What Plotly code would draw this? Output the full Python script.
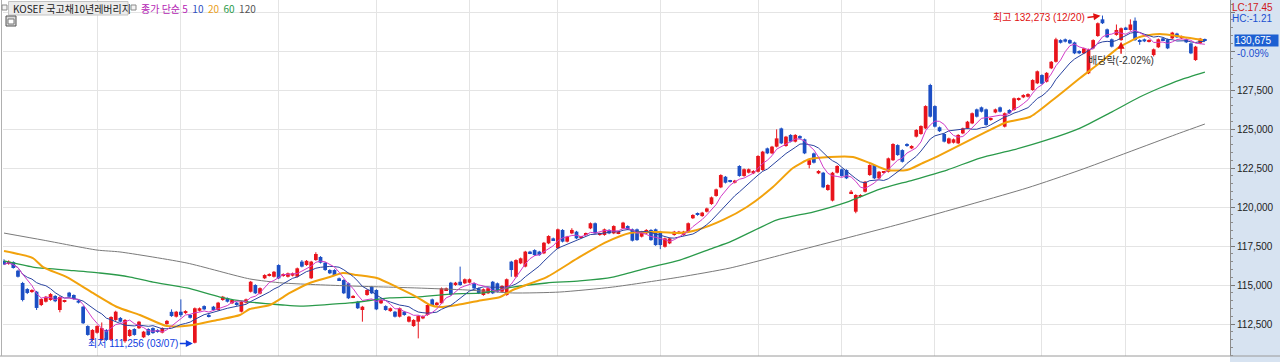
import plotly.graph_objects as go
import pandas as pd

# ---------------- data ----------------
opens = [
    116540, 116350, 116470, 115920, 115130, 114740, 114550, 114570, 113720, 113930,
    114040, 114300, 113400, 113930, 114510, 114360, 114000, 113610, 112370, 111480,
    111940, 111480, 112120, 111480, 112760, 112890, 111400, 111730, 112180, 112230,
    111650, 112180, 112240, 112120, 111950, 112500, 113280, 112970, 113290, 113200,
    113080, 111300, 113350, 113650, 113080, 113610, 113400, 114040, 114150, 113830,
    113870, 113290, 113870, 114570, 115000, 114450, 115430, 115600, 115530, 116280,
    115580, 115530, 115600, 115530, 116500, 116280, 115430, 116600, 116800, 116430,
    115960, 115960, 115430, 115320, 115110, 114210, 113930, 113400, 114360, 114890,
    114680, 113830, 113650, 113330, 113290, 112970, 113290, 112650, 112370, 112650,
    112860, 113080, 114080, 113720, 113830, 114680, 115150, 115000, 115210, 115110,
    115150, 115110, 114790, 114360, 114470, 115210, 115110, 114570, 114360, 116500,
    115530, 116390, 116180, 117140, 117240, 117140, 117030, 117670, 117990, 117350,
    118530, 117780, 118310, 118420, 118060, 118210, 118630, 118960, 118210, 118210,
    118530, 118310, 118310, 118630, 118780, 118570, 118570, 118100, 118310, 118530,
    118570, 118420, 117450, 117670, 118210, 118310, 118210, 118420, 119280, 119600,
    119420, 119700, 120190, 120710, 121260, 121940, 121690, 121560, 122630, 121990,
    122200, 122160, 122260, 122370, 123760, 123440, 123870, 125040, 123910, 124620,
    124190, 124550, 124340, 122700, 123440, 122160, 122200, 121090, 120410, 122200,
    122420, 122370, 120880, 119700, 120660, 120980, 122050, 122690, 121840, 122200,
    122260, 123000, 123970, 123650, 124040, 123760, 124510, 124680, 125040, 127820,
    126470, 125110, 124680, 124080, 124120, 124080, 124720, 125040, 125360, 126260,
    126390, 126260, 125580, 126060, 126390, 125150, 126220, 126220, 126860, 127030,
    127070, 127500, 127930, 128460, 128030, 128890, 129310, 130700, 130750, 130700,
    130550, 130000, 129850, 128570, 130170, 130960, 132030, 131390, 130750, 131030,
    130700, 131500, 131350, 131940, 130700, 130750, 130600, 129740, 130240, 130810,
    130750, 130810, 131120, 130810, 130750, 130490, 129420, 130490, 130750,
]
closes = [
    116330, 116500, 116090, 115530, 114040, 114490, 114680, 113530, 114100, 114250,
    114420, 113960, 114230, 113960, 114250, 114100, 113870, 112550, 111800, 112120,
    112370, 112240, 111480, 112950, 113290, 112650, 112760, 112120, 111800, 112650,
    112010, 111800, 111920, 111990, 112240, 112700, 113010, 113290, 113070, 113330,
    112900, 113510, 113510, 113440, 112970, 113400, 113870, 114250, 113930, 114040,
    113720, 113930, 114080, 115210, 114470, 114800, 115640, 115700, 115850, 115430,
    115700, 115750, 115750, 116070, 116180, 116550, 116500, 116990, 116430, 115960,
    115750, 115640, 115320, 114470, 114150, 114300, 113510, 113610, 114680, 114470,
    113440, 114040, 113400, 113510, 112970, 113510, 113080, 112970, 112760, 113010,
    113010, 113720, 113720, 113870, 114790, 114790, 114360, 115150, 115000, 115370,
    115370, 114790, 114470, 114730, 114790, 114470, 114570, 114940, 115370, 115960,
    116600, 116710, 117140, 117030, 116920, 116920, 117710, 118140, 117880, 118570,
    117780, 118100, 118530, 117990, 118100, 118310, 118960, 118310, 118310, 118570,
    118310, 118780, 118420, 119000, 118570, 117840, 117880, 118420, 118530, 117880,
    117560, 117560, 117990, 117990, 118420, 118420, 118420, 118960, 119490, 119490,
    119640, 119910, 120620, 121130, 122050, 121560, 121620, 121690, 121990, 122420,
    122420, 122310, 123270, 123550, 123440, 123870, 124400, 124080, 124510, 124190,
    124620, 124400, 123440, 123000, 122840, 122310, 121260, 121410, 122200, 122630,
    121990, 121840, 120980, 120770, 120770, 121620, 122690, 121840, 122260, 122260,
    123120, 124040, 123330, 122900, 123910, 123910, 124940, 125190, 126470, 125790,
    125150, 124860, 124190, 124400, 124340, 124620, 125040, 125470, 126010, 125790,
    126110, 125260, 125680, 126260, 126110, 126010, 126010, 126970, 126970, 127180,
    127240, 128140, 128700, 127900, 128600, 129310, 130750, 130530, 130600, 130490,
    129850, 129850, 130170, 130100, 130700, 131780, 131780, 130880, 130280, 131350,
    131460, 131400, 131700, 130700, 130600, 130620, 130700, 130110, 130750, 130700,
    130170, 131180, 130880, 130940, 130560, 129850, 130280, 130790, 130675,
]
highs = [
    116650, 116580, 116520, 115980, 115200, 114800, 114730, 114620, 114150, 114300,
    114480, 114350, 114280, 114050, 114560, 114400, 114050, 113660, 112420, 112170,
    112420, 112600, 112170, 113000, 113350, 112950, 112820, 112180, 112230, 112700,
    112060, 112230, 112290, 112170, 112290, 112760, 113440, 113340, 114080, 113380,
    113130, 113560, 113560, 113700, 113200, 113660, 113920, 114300, 114200, 114090,
    113920, 113980, 114130, 115260, 115050, 114850, 115690, 115750, 115900, 116330,
    115750, 115800, 115800, 116120, 116600, 116600, 116550, 117100, 116850, 116480,
    116010, 116010, 115480, 115370, 115160, 114350, 113980, 113660, 114730, 114940,
    114730, 114090, 113700, 113560, 113340, 113560, 113340, 113020, 112810, 113060,
    113060, 113770, 114130, 113920, 114840, 114840, 115200, 115200, 116180, 115420,
    115420, 115160, 114840, 114780, 114840, 115260, 115160, 114990, 115420, 116550,
    116650, 116760, 117190, 117190, 117290, 117190, 117760, 118190, 118040, 118620,
    118580, 118150, 118640, 118470, 118150, 118360, 119010, 119010, 118360, 118620,
    118580, 118830, 118470, 119050, 118830, 118620, 118620, 118470, 118580, 118580,
    118620, 118470, 118040, 118040, 118470, 118470, 118470, 119010, 119540, 119650,
    119690, 119960, 120670, 121180, 122100, 121990, 121740, 121740, 122680, 122470,
    122470, 122360, 123320, 123600, 123810, 123920, 124980, 125090, 124560, 124670,
    124670, 124600, 124390, 123060, 123490, 122360, 122250, 121460, 122250, 122680,
    122470, 122420, 121090, 120820, 120820, 121670, 122740, 122740, 122310, 122310,
    123170, 124090, 124020, 123700, 124090, 123960, 124990, 125240, 126520, 127900,
    126520, 125160, 124730, 124450, 124390, 124670, 125090, 125520, 126060, 126310,
    126440, 126310, 125730, 126310, 126440, 126060, 126270, 127020, 127020, 127230,
    127290, 128190, 128750, 128510, 128650, 129360, 130850, 130750, 130800, 130750,
    130600, 130050, 130220, 130150, 130750, 131830, 132273, 131440, 130800, 131700,
    131510, 131550, 132030, 132150, 130750, 130800, 130750, 130160, 130800, 130860,
    130800, 131230, 131170, 130990, 130800, 130540, 130330, 130840, 130800,
]
lows = [
    116280, 116300, 116050, 115480, 113950, 114420, 114500, 113400, 113650, 113880,
    113990, 113900, 113250, 113880, 114200, 114050, 113820, 112500, 111750, 111420,
    111880, 111420, 111420, 111420, 112700, 112600, 111300, 111680, 111750, 112180,
    111600, 111750, 111870, 111940, 111900, 112450, 112960, 112920, 112950, 113150,
    112850, 111256, 113300, 113390, 112920, 113350, 113350, 113990, 113880, 113780,
    113670, 113240, 113820, 114520, 114420, 114400, 115380, 115550, 115480, 115380,
    115530, 115480, 115550, 115480, 116130, 116230, 115380, 116550, 116380, 115910,
    115700, 115590, 115270, 114420, 114100, 114160, 113460, 112650, 114310, 114420,
    113390, 113780, 113350, 113280, 112920, 112920, 113030, 112600, 112320, 111580,
    112810, 113030, 113670, 113670, 113780, 114630, 114310, 114950, 114950, 115060,
    115100, 114740, 114420, 114310, 114420, 114420, 114520, 114520, 114310, 115530,
    115480, 116340, 116130, 116980, 116870, 116870, 116980, 117620, 117830, 117300,
    117730, 117730, 118260, 117940, 118010, 118160, 118580, 118260, 118160, 118160,
    118260, 118260, 118260, 118580, 118520, 117790, 117830, 118050, 118260, 117830,
    117510, 117300, 117400, 117620, 118160, 118260, 118160, 118370, 119230, 119440,
    119370, 119650, 120140, 120660, 121210, 121510, 121570, 121510, 121940, 121940,
    122150, 122110, 122210, 122320, 123390, 123390, 123820, 124030, 123860, 124140,
    124140, 124350, 123390, 122480, 122790, 122110, 121210, 121040, 120360, 122150,
    121940, 121790, 120830, 119600, 120610, 120930, 122000, 121790, 121790, 122150,
    122210, 122950, 123280, 122850, 123860, 123710, 124460, 124630, 124990, 125740,
    125100, 124810, 124140, 124030, 124070, 124030, 124670, 124990, 125310, 125740,
    126060, 125210, 125530, 126010, 126060, 125100, 125960, 126170, 126810, 126980,
    127020, 127450, 127880, 127850, 127980, 128840, 129260, 130480, 130550, 130440,
    129800, 129800, 129800, 128520, 130120, 130910, 131730, 130830, 130230, 130980,
    130650, 131350, 131300, 130650, 130400, 130570, 130550, 129650, 130190, 130650,
    130120, 130760, 130830, 130760, 130510, 129800, 129370, 130440, 130620,
]

# moving-average lines (candle index, value)
ma20_idx = [0, 6.2, 8.4, 13.5, 19.1, 24.3, 29.2, 35.0, 40.6, 45.8, 50.7, 52.8, 57.1, 61.4,
            65.7, 70.0, 72.8, 75.8, 80.1, 84.4, 88.7, 91.5, 93.7, 97.3, 102.9, 106.6, 109.3,
            116.6, 123.7, 129.5, 134.5, 140.9, 145.2, 148.9, 154.5, 159.6, 165.2, 169.5,
            173.1, 177.4, 182.4, 186.0, 189.7, 194.0, 197.4, 201.1, 209.7, 215.5, 220.4,
            225.3, 231.2, 235.4, 239.7, 244.0, 248.3, 253.3, 257.6]
ma20_val = [117180, 116730, 116150, 115510, 114490, 113590, 113080, 112370, 112440, 112760,
            113080, 113460, 113720, 114490, 115130, 115510, 115770, 115640, 115450, 114870,
            114230, 113720, 113590, 113720, 114040, 114230, 114680, 115510, 116800, 117760,
            118330, 118400, 118330, 118530, 119170, 120000, 121280, 122500, 123080, 123210,
            123210, 122820, 122370, 122370, 122820, 123330, 124620, 125450, 125770, 126860,
            128270, 129230, 130260, 130900, 131090, 130900, 130710]
ma60_idx = [0, 6.2, 13.5, 20.6, 27.1, 32.0, 39.3, 46.4, 52.8, 59.9, 63.6, 74.3, 82.9, 88.7,
            95.8, 102.9, 109.3, 116.6, 123.7, 130.8, 138.1, 145.2, 152.3, 156.0, 166.1,
            173.8, 181.1, 188.2, 195.3, 202.6, 209.7, 216.8, 224.1, 231.2, 237.6, 244.0,
            248.3, 252.6, 258.0]
ma60_val = [116540, 116150, 115960, 115770, 115510, 115190, 114810, 114230, 113910, 113720,
            113650, 113850, 114170, 114230, 114420, 114490, 114870, 115130, 115260, 115510,
            116090, 116600, 117370, 117760, 119170, 119680, 120320, 121150, 121730, 122370,
            123140, 123660, 124300, 125060, 126030, 127050, 127630, 128140, 128650]
ma120_idx = [0, 8.4, 20.0, 24.9, 39.3, 52.8, 59.9, 74.3, 88.7, 99.5, 109.3, 119.4, 130.8,
             145.2, 156.0, 171.0, 192.5, 219.8, 231.2, 252.6, 258.0]
ma120_val = [118330, 117880, 117240, 117120, 116410, 115390, 115130, 114940, 114810, 114680,
             114490, 114550, 114870, 115510, 116090, 117240, 118910, 121220, 122370, 124740,
             125320]

month_starts = [20, 38, 59, 80, 100, 119, 141, 162, 180, 200, 223, 241]
y_ticks = [112500, 115000, 117500, 120000, 122500, 125000, 127500, 130000, 132500]
y_labels = ["112,500", "115,000", "117,500", "120,000", "122,500", "125,000", "127,500", "", ""]

title_name = "KOSEF 국고채10년레버리지"
ma_periods = ["5", "10", "20", "60", "120"]
high_idx, high_txt = 236, "최고 132,273 (12/20)"
low_idx, low_txt = 41, "최저 111,256 (03/07)"
exdiv_idx, exdiv_txt = 240, "배당락(-2.02%)"
last_price, last_chg = "130,675", "-0.09%"
lc_txt, hc_txt = "LC:17.45", "HC:-1.21"

# ---------------- styling ----------------
W, H = 1280, 362
PL, PR, PB = 3, 1230, 356
RED, BLUE = "#e8141c", "#1c4fc4"
C5, C10, C20, C60, C120 = "#d23cc8", "#2a44a0", "#f2a20c", "#2a9a4a", "#7a7a7a"
FONT = "Liberation Sans, Noto Sans CJK KR, sans-serif"
KFONT = "Noto Sans CJK KR, Liberation Sans, sans-serif"
BODY_W = 0.8           # candle body width (fraction of one day)
MIN_BODY = 55          # minimum drawn body height so doji stay visible


def px_x(px):
    return (px - PL) / (PR - PL)


def px_y(py):
    return 1 - py / PB


idx = list(range(len(closes)))
cs = pd.Series(closes, dtype=float)
ma5 = cs.rolling(5, min_periods=1).mean()
ma10 = cs.rolling(10, min_periods=1).mean()

fig = go.Figure()
for is_up, col in ((True, RED), (False, BLUE)):
    sel = [i for i in idx if (closes[i] > opens[i]) == is_up]
    base = [min(opens[i], closes[i]) for i in sel]
    hgt = [max(abs(closes[i] - opens[i]), MIN_BODY) for i in sel]
    wx, wy = [], []
    for i in sel:
        wx += [i, i, None]
        wy += [lows[i], highs[i], None]
    fig.add_trace(go.Scatter(x=wx, y=wy, mode="lines", line=dict(color=col, width=1),
                             hoverinfo="skip"))
    fig.add_trace(go.Bar(x=sel, y=hgt, base=base, width=BODY_W,
                         marker=dict(color=col, line=dict(width=0)), hoverinfo="skip"))

smooth = dict(shape="spline", smoothing=0.6)
fig.add_trace(go.Scatter(x=ma120_idx, y=ma120_val, mode="lines",
                         line=dict(color=C120, width=1, **smooth), hoverinfo="skip"))
fig.add_trace(go.Scatter(x=ma60_idx, y=ma60_val, mode="lines",
                         line=dict(color=C60, width=1.3, **smooth), hoverinfo="skip"))
fig.add_trace(go.Scatter(x=ma20_idx, y=ma20_val, mode="lines",
                         line=dict(color=C20, width=2, **smooth), hoverinfo="skip"))
fig.add_trace(go.Scatter(x=idx, y=ma10, mode="lines", line=dict(color=C10, width=1), hoverinfo="skip"))
fig.add_trace(go.Scatter(x=idx, y=ma5, mode="lines", line=dict(color=C5, width=1), hoverinfo="skip"))

shapes = [
    # right price panel
    dict(type="rect", xref="paper", yref="paper", x0=1, x1=px_x(W), y0=px_y(H), y1=1,
         fillcolor="#d7e3f1", line=dict(width=0), layer="below"),
    # bottom and left frame lines
    dict(type="line", xref="paper", yref="paper", x0=px_x(0), x1=px_x(W), y0=0, y1=0,
         line=dict(color="#9a9a9a", width=1)),
    dict(type="line", xref="paper", yref="paper", x0=px_x(1.5), x1=px_x(1.5), y0=0, y1=1,
         line=dict(color="#b0b0b0", width=1)),
    # small icons top-left
    dict(type="rect", xref="paper", yref="paper", x0=px_x(2), x1=px_x(7), y0=px_y(10), y1=px_y(5),
         fillcolor="#f4f4f4", line=dict(color="#8a8a8a", width=1)),
    dict(type="rect", xref="paper", yref="paper", x0=px_x(8.5), x1=px_x(128), y0=px_y(15), y1=px_y(1.5),
         fillcolor="#ececec", line=dict(color="#c4c4c4", width=1)),
    dict(type="rect", xref="paper", yref="paper", x0=px_x(131), x1=px_x(136), y0=px_y(10), y1=px_y(5),
         fillcolor="#f4f4f4", line=dict(color="#8a8a8a", width=1)),
    dict(type="rect", xref="paper", yref="paper", x0=px_x(6), x1=px_x(16), y0=px_y(26), y1=px_y(16),
         fillcolor="#d8d8d8", line=dict(color="#555555", width=1)),
    dict(type="rect", xref="paper", yref="paper", x0=px_x(8), x1=px_x(14), y0=px_y(24), y1=px_y(19),
         fillcolor="#ffffff", line=dict(color="#777777", width=1)),
]

legend_html = (f'<span style="color:#b41cb4">종가 단순 {ma_periods[0]}</span>  '
               f'<span style="color:#2f4fc0">{ma_periods[1]}</span>  '
               f'<span style="color:#eaa020">{ma_periods[2]}</span>  '
               f'<span style="color:#2a9a4a">{ma_periods[3]}</span>  '
               f'<span style="color:#555555">{ma_periods[4]}</span>')

annotations = [
    dict(xref="paper", yref="paper", x=px_x(11), y=px_y(8.5), xanchor="left", yanchor="middle",
         text=title_name, showarrow=False, font=dict(family=KFONT, size=10, color="#222222")),
    dict(xref="paper", yref="paper", x=px_x(139), y=px_y(8.5), xanchor="left", yanchor="middle",
         text=legend_html, showarrow=False, font=dict(family=KFONT, size=10)),
    dict(xref="paper", yref="paper", x=px_x(1231), y=px_y(0.5), xanchor="left", yanchor="top",
         text=lc_txt, showarrow=False, borderpad=0, font=dict(family=FONT, size=10, color="#d01818")),
    dict(xref="paper", yref="paper", x=px_x(1231), y=px_y(12), xanchor="left", yanchor="top",
         text=hc_txt, showarrow=False, borderpad=0, font=dict(family=FONT, size=10, color="#1a4fd0")),
    dict(xref="paper", yref="y", x=px_x(1234), y=closes[-1], xanchor="left", yanchor="middle",
         text=last_price, showarrow=False, bgcolor="#1c5fd2", width=43, height=11, align="left",
         valign="middle", borderpad=0, font=dict(family=FONT, size=10, color="#ffffff")),
    dict(xref="paper", yref="paper", x=px_x(1236), y=px_y(47), xanchor="left", yanchor="top",
         text=last_chg, showarrow=False, borderpad=0, font=dict(family=FONT, size=10, color="#1a4fd0")),
    dict(x=high_idx, y=highs[high_idx], text=high_txt, showarrow=True, ax=-15, ay=2,
         xanchor="right", yanchor="middle", arrowhead=2, arrowsize=1, arrowwidth=1.4,
         arrowcolor="#e01010", standoff=2, font=dict(family=FONT, size=10, color="#e01010")),
    dict(x=low_idx, y=lows[low_idx], text=low_txt, showarrow=True, ax=-15, ay=0,
         xanchor="right", yanchor="middle", arrowhead=2, arrowsize=1, arrowwidth=1.4,
         arrowcolor="#1040e0", standoff=2, font=dict(family=FONT, size=10, color="#1040e0")),
    dict(x=exdiv_idx, y=lows[exdiv_idx], text=exdiv_txt, showarrow=True, ax=0, ay=13,
         xanchor="center", yanchor="top", arrowhead=2, arrowsize=1, arrowwidth=1.4,
         arrowcolor="#e01010", standoff=1, borderpad=0,
         font=dict(family=FONT, size=10, color="#333333")),
]

fig.update_layout(
    width=W, height=H, autosize=False,
    margin=dict(l=PL, r=W - PR, t=0, b=H - PB, pad=0),
    paper_bgcolor="#ffffff", plot_bgcolor="#ffffff",
    showlegend=False, shapes=shapes, annotations=annotations, barmode="overlay",
    font=dict(family=FONT, size=10, color="#222222"),
)
fig.update_xaxes(range=[-0.215, 263.4], tickmode="array", tickvals=month_starts,
                 showticklabels=False, ticks="", showgrid=True, gridcolor="#e4e4e4", gridwidth=1,
                 zeroline=False, showline=False, fixedrange=True)
fig.update_yaxes(range=[110450, 133270], side="right", tickmode="array", tickvals=y_ticks,
                 ticktext=y_labels, ticks="outside", ticklen=4, tickcolor="#777777",
                 showgrid=True, gridcolor="#e4e4e4", gridwidth=1, zeroline=False,
                 showline=True, linecolor="#8c8c8c", linewidth=1,
                 tickfont=dict(family=FONT, size=10, color="#222222"),
                 minor=dict(tickmode="linear", tick0=0, dtick=500, ticks="outside", ticklen=2,
                            tickcolor="#8c8c8c", showgrid=False),
                 fixedrange=True)

fig.write_html("out.html", config={"displayModeBar": False},
               post_script="document.body.style.margin='0';document.body.style.overflow='hidden';")
